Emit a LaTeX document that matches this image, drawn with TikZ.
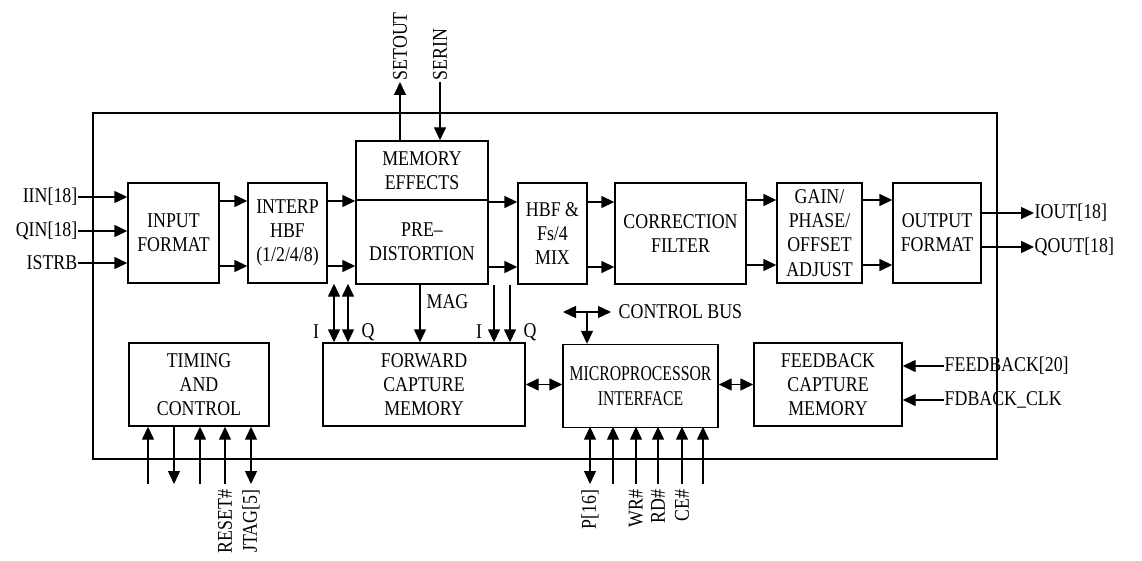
\documentclass[tikz,border=0pt]{standalone}
\usepackage{fontspec}
\setmainfont{Liberation Serif}[FakeStretch=0.85]
\newfontfamily\narrowfont{Liberation Serif}[FakeStretch=0.75]
\usetikzlibrary{arrows.meta}
\begin{document}
\begin{tikzpicture}[x=1pt,y=-1pt, line width=1.4pt,
  every node/.style={font=\fontsize{21}{24.3}\selectfont},
  box/.style={draw, line width=1.4pt, align=center, inner sep=0pt},
  arr/.style={-{Triangle[length=13pt,width=12pt]}},
  dbl/.style={{Triangle[length=13pt,width=12pt]}-{Triangle[length=13pt,width=12pt]}},
  lbl/.style={inner sep=0pt},
  vlabel/.style={rotate=90, anchor=east, inner xsep=5pt, inner ysep=0pt},
  tlabel/.style={rotate=90, anchor=west, inner xsep=1pt, inner ysep=0pt}]
\useasboundingbox (0,0) rectangle (1142,561);
% chip outline
\node[box, minimum width=904, minimum height=346] (chip) at (545,286) {};
% blocks
\node[box, minimum width=91, minimum height=100] (inp) at (173.5,233) {INPUT\\FORMAT};
\node[box, minimum width=79, minimum height=100] (interp) at (287.5,233) {INTERP\\HBF\\(1/2/4/8)};
\node[box, minimum width=132, minimum height=59] (mem) at (422,170.5) {MEMORY\\EFFECTS};
\node[box, minimum width=132, minimum height=84] (pre) at (422,242) {PRE--\\DISTORTION};
\node[box, minimum width=69, minimum height=101] (hbf) at (552.5,233.5) {HBF \&\\Fs/4\\MIX};
\node[box, minimum width=131, minimum height=101] (corr) at (680.5,233.5) {CORRECTION\\FILTER};
\node[box, minimum width=85, minimum height=100] (gain) at (819.5,233) {GAIN/\\PHASE/\\OFFSET\\ADJUST};
\node[box, minimum width=88, minimum height=100] (out) at (937,233) {OUTPUT\\FORMAT};
\node[box, minimum width=140, minimum height=83] (tim) at (199,384.5) {TIMING\\AND\\CONTROL};
\node[box, minimum width=202, minimum height=83] (fwd) at (424,384.5) {FORWARD\\CAPTURE\\MEMORY};
\node[box, minimum width=155, minimum height=83, font=\narrowfont\fontsize{21}{24.3}\selectfont] (mic) at (640.5,386) {MICROPROCESSOR\\INTERFACE};
\node[box, minimum width=148, minimum height=83] (fb) at (828,384.5) {FEEDBACK\\CAPTURE\\MEMORY};
% inputs
\node[lbl, anchor=east] (iin) at (78,197) {IIN[18]};
\node[lbl, anchor=east] (qin) at (78,231) {QIN[18]};
\node[lbl, anchor=east] (istrb) at (78,263) {ISTRB};
\draw[arr] (iin.east) -- (iin.east -| inp.west);
\draw[arr] (qin.east) -- (qin.east -| inp.west);
\draw[arr] (istrb.east) -- (istrb.east -| inp.west);
% data path
\draw[arr] (inp.east |- 0,201) -- (interp.west |- 0,201);
\draw[arr] (inp.east |- 0,266) -- (interp.west |- 0,266);
\draw[arr] (interp.east |- 0,201) -- (pre.west |- 0,201);
\draw[arr] (interp.east |- 0,266) -- (pre.west |- 0,266);
\draw[arr] (pre.east |- 0,202) -- (hbf.west |- 0,202);
\draw[arr] (pre.east |- 0,267) -- (hbf.west |- 0,267);
\draw[arr] (hbf.east |- 0,202) -- (corr.west |- 0,202);
\draw[arr] (hbf.east |- 0,267) -- (corr.west |- 0,267);
\draw[arr] (corr.east |- 0,200) -- (gain.west |- 0,200);
\draw[arr] (corr.east |- 0,265) -- (gain.west |- 0,265);
\draw[arr] (gain.east |- 0,200) -- (out.west |- 0,200);
\draw[arr] (gain.east |- 0,265) -- (out.west |- 0,265);
% outputs
\node[lbl, anchor=west] (iout) at (1034,213) {IOUT[18]};
\node[lbl, anchor=west] (qout) at (1034,247) {QOUT[18]};
\draw[arr] (iout.west -| out.east) -- (iout.west);
\draw[arr] (qout.west -| out.east) -- (qout.west);
% serial
\node[tlabel] (setout) at (400,82) {SETOUT};
\node[tlabel] (serin) at (440,82) {SERIN};
\draw[arr] (setout.west |- mem.north) -- (setout.west);
\draw[arr] (serin.west) -- (serin.west |- mem.north);
% capture taps
\draw[dbl] (interp.south -| 334,0) -- (fwd.north -| 334,0);
\draw[dbl] (interp.south -| 348,0) -- (fwd.north -| 348,0);
\draw[arr] (pre.south -| 420,0) -- (fwd.north -| 420,0);
\draw[arr] (pre.south -| 494,0) -- (fwd.north -| 494,0);
\draw[arr] (pre.south -| 510,0) -- (fwd.north -| 510,0);
\node[lbl] (il) at (316,332) {I};
\node[lbl] (ql) at (368,332) {Q};
\node[lbl] (ir) at (479,332) {I};
\node[lbl] (qr) at (530,332) {Q};
\node[lbl, anchor=west] (mag) at (426,302) {MAG};
% bus
\draw[dbl] (fwd.east) -- (fwd.east -| mic.west);
\draw[dbl] (fb.west -| mic.east) -- (fb.west);
\coordinate (cbl) at (563,312);
\coordinate (cbr) at (611,312);
\coordinate (cbm) at (587,312);
\draw[dbl] (cbl) -- (cbr);
\draw[arr] (cbm) -- (cbm |- mic.north);
\node[lbl, anchor=west] (cbus) at (618,312) {CONTROL BUS};
% feedback inputs
\node[lbl, anchor=west] (fbd) at (944,366) {FEEDBACK[20]};
\node[lbl, anchor=west] (fclk) at (944,400) {FDBACK\_CLK};
\draw[arr] (fbd.west) -- (fbd.west -| fb.east);
\draw[arr] (fclk.west) -- (fclk.west -| fb.east);
% timing pins
\coordinate (t1) at (148,484);
\coordinate (t2) at (174,484);
\coordinate (t3) at (200,484);
\node[vlabel] (rst) at (225,484) {RESET\#};
\node[vlabel] (jtag) at (251,484) {JTAG[5]};
\draw[arr] (t1) -- (t1 |- tim.south);
\draw[arr] (t2 |- tim.south) -- (t2);
\draw[arr] (t3) -- (t3 |- tim.south);
\draw[arr] (rst.east) -- (rst.east |- tim.south);
\draw[dbl] (jtag.east) -- (jtag.east |- tim.south);
% micro pins
\node[vlabel] (p16) at (590,484) {P[16]};
\coordinate (m2) at (613,484);
\node[vlabel] (wr) at (636,484) {WR\#};
\node[vlabel] (rd) at (658,484) {RD\#};
\node[vlabel] (ce) at (682,484) {CE\#};
\coordinate (m6) at (703,484);
\draw[dbl] (p16.east) -- (p16.east |- tim.south);
\draw[arr] (m2) -- (m2 |- tim.south);
\draw[arr] (wr.east) -- (wr.east |- tim.south);
\draw[arr] (rd.east) -- (rd.east |- tim.south);
\draw[arr] (ce.east) -- (ce.east |- tim.south);
\draw[arr] (m6) -- (m6 |- tim.south);
\end{tikzpicture}
\end{document}
